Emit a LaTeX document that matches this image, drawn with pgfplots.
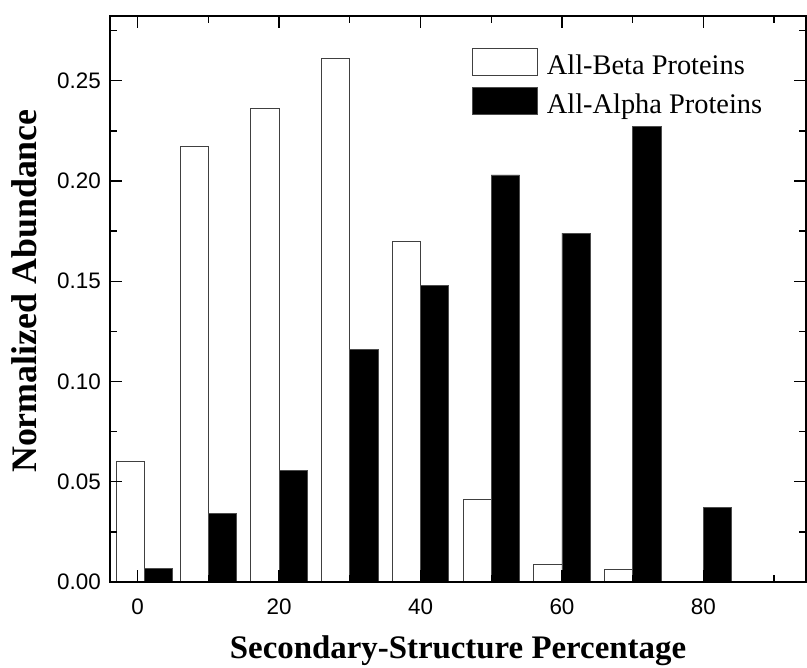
\documentclass[border=0pt]{standalone}
\usepackage{pgfplots}
\pgfplotsset{compat=1.18}
\usepackage{fontspec}
\setmainfont{Liberation Serif}
\newfontfamily\tickfont{Liberation Sans}
\begin{document}
\begin{tikzpicture}
\begin{axis}[
  name=ax,
  scale only axis, width=696bp, height=566bp,
  xmin=-3.9, xmax=94.5, ymin=0, ymax=0.2823,
  axis on top, clip=false,
  axis line style={line width=1.5bp},
  tick style={line width=1.4bp, black},
  tick align=inside,
  major tick length=12bp, minor tick length=7bp,
  xtick={0,20,40,60,80}, minor xtick={10,30,50,70,90},
  ytick={0,0.05,0.10,0.15,0.20,0.25},
  minor ytick={0.025,0.075,0.125,0.175,0.225,0.275},
  /pgf/number format/assume math mode=true,
  scaled y ticks=false,
  yticklabel={\pgfmathprintnumber[fixed,fixed zerofill,precision=2]{\tick}},
  yticklabel style={inner sep=0pt, xshift=-9bp, font=\tickfont\fontsize{22.5}{26}\selectfont},
  xticklabel style={inner sep=0pt, yshift=-17bp, font=\tickfont\fontsize{22.5}{26}\selectfont},
  xlabel={\bfseries Secondary-Structure Percentage},
  xlabel style={at={(axis description cs:0.5,-0.136)}, anchor=base, font=\fontsize{33}{36}\selectfont},
  ylabel={\bfseries Normalized Abundance},
  ylabel style={at={(axis description cs:-0.105,0.514)}, anchor=base, rotate=0, font=\fontsize{36}{40}\selectfont},
  legend image code/.code={\draw[#1] (0bp,-1bp) rectangle (65bp,26bp);},
  legend style={at={(0.5201,0.9435)}, anchor=north west, draw=none, fill=none,
    inner sep=0pt, outer sep=0pt, row sep=11.2bp, column sep=9bp,
    cells={anchor=base west}, nodes={inner sep=0pt},
    font=\fontsize{28.5}{32}\selectfont},
]
\addplot[ybar, bar width=4, bar shift=-2, fill=white, draw=black!75, line width=0.9bp]
  coordinates {(1,0.060) (10,0.217) (20,0.236) (30,0.261) (40,0.170) (50,0.041) (60,0.009) (70,0.0065)};
\addlegendentry{All-Beta Proteins}
\addplot[ybar, bar width=4, bar shift=2, fill=black, draw=black!70, line width=0.9bp]
  coordinates {(1,0.0068) (10,0.034) (20,0.0558) (30,0.116) (40,0.148) (50,0.203) (60,0.174) (70,0.227) (80,0.037)};
\addlegendentry{All-Alpha Proteins}
\end{axis}
\pgfresetboundingbox
\path ([xshift=-110bp,yshift=-86bp]ax.south west) rectangle ([xshift=1bp,yshift=16bp]ax.north east);
\end{tikzpicture}
\end{document}
